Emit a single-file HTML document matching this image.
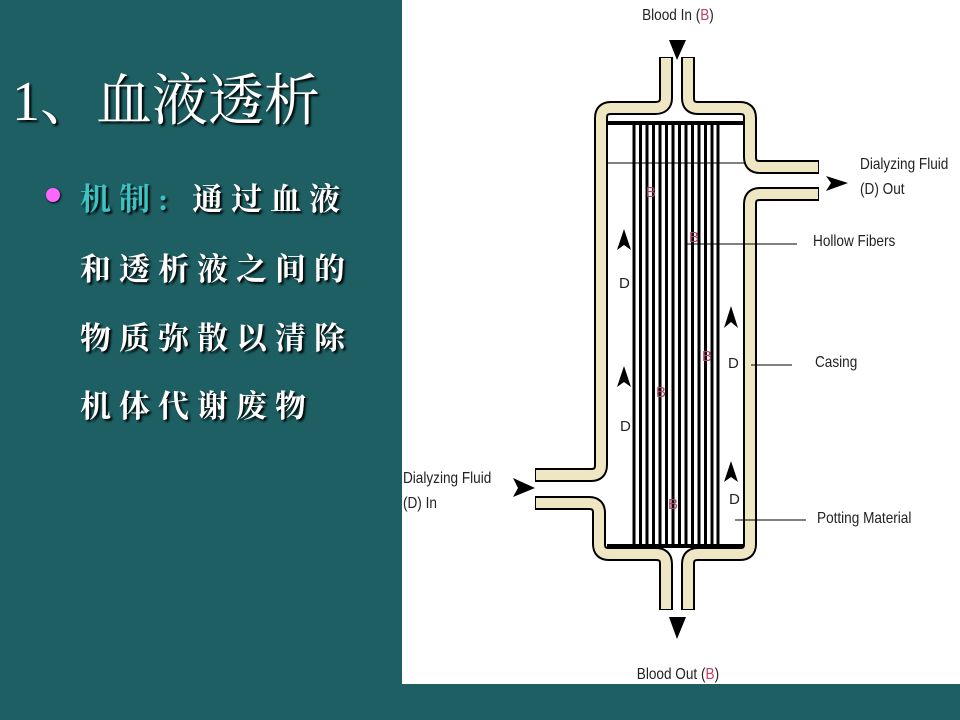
<!DOCTYPE html>
<html><head><meta charset="utf-8"><style>
html,body{margin:0;padding:0}
body{width:960px;height:720px;background:#1d5f63;position:relative;overflow:hidden}
.white{position:absolute;left:402px;top:0;width:558px;height:684px;background:#fff}
.t{position:absolute;color:#fff;font-family:"Liberation Serif","Noto Serif CJK SC",serif;text-shadow:2px 2px 2px #000;white-space:nowrap}
.title{left:12px;top:70px;font-size:56px;line-height:64px}
.l{left:80px;font-size:31px;letter-spacing:8px;line-height:40px;font-weight:bold}
.dot{position:absolute;left:46px;top:188px;width:14px;height:14px;border-radius:50%;background:#ff66ff;box-shadow:1px 1px 2px #000}
svg{position:absolute;left:0;top:0}
</style></head><body>
<div class="white"></div>
<div class="t title">1、血液透析</div>
<div class="dot"></div>
<div class="t l" style="top:180px"><span style="color:#3cc4c4">机制:</span>&nbsp;通过血液</div>
<div class="t l" style="top:250px">和透析液之间的</div>
<div class="t l" style="top:319px">物质弥散以清除</div>
<div class="t l" style="top:387px">机体代谢废物</div>
<svg width="960" height="720" viewBox="0 0 960 720">
<g fill="none" stroke-linejoin="round">
<g stroke="#000" stroke-width="14">
<path d="M666 57 V98 Q666 108 655 108 H611 Q601 108 601 118 V465 Q601 475 591 475 H535"/>
<path d="M535 503 H589 Q599 503 599 513 V544 Q599 554 609 554 H656 Q666 554 666 564 V610"/>
<path d="M688 57 V98 Q688 108 698 108 H740 Q750 108 750 118 V157 Q750 167 760 167 H819"/>
<path d="M819 194 H760 Q750 194 750 204 V544 Q750 554 740 554 H698 Q688 554 688 564 V610"/>
</g>
<g stroke="#efe6c4" stroke-width="10">
<path d="M666 58 V98 Q666 108 655 108 H611 Q601 108 601 118 V465 Q601 475 591 475 H536"/>
<path d="M536 503 H589 Q599 503 599 513 V544 Q599 554 609 554 H656 Q666 554 666 564 V609"/>
<path d="M688 58 V98 Q688 108 698 108 H740 Q750 108 750 118 V157 Q750 167 760 167 H818"/>
<path d="M818 194 H760 Q750 194 750 204 V544 Q750 554 740 554 H698 Q688 554 688 564 V609"/>
</g>
</g>
<g stroke="#000">
<line x1="607" y1="123" x2="745" y2="123" stroke-width="4"/>
<line x1="607" y1="546" x2="744" y2="546" stroke-width="4"/>
<g stroke-width="3">
<line x1="634" y1="123" x2="634" y2="546"/><line x1="640.5" y1="123" x2="640.5" y2="546"/>
<line x1="647" y1="123" x2="647" y2="546"/><line x1="653.5" y1="123" x2="653.5" y2="546"/>
<line x1="660" y1="123" x2="660" y2="546"/><line x1="666.5" y1="123" x2="666.5" y2="546"/>
<line x1="673" y1="123" x2="673" y2="546"/><line x1="679.5" y1="123" x2="679.5" y2="546"/>
<line x1="686" y1="123" x2="686" y2="546"/><line x1="692.5" y1="123" x2="692.5" y2="546"/>
<line x1="699" y1="123" x2="699" y2="546"/><line x1="705.5" y1="123" x2="705.5" y2="546"/>
<line x1="712" y1="123" x2="712" y2="546"/><line x1="718" y1="123" x2="718" y2="546"/>
</g>
<g stroke-width="1">
<line x1="606" y1="163" x2="745" y2="163"/>
<line x1="687" y1="244" x2="797" y2="244"/>
<line x1="751" y1="365" x2="792" y2="365"/>
<line x1="735" y1="520" x2="806" y2="520"/>
</g>
</g>
<g fill="#000">
<polygon points="669,40 686,40 677,60"/>
<polygon points="669,617 686,617 677,639"/>
<polygon points="513,478 535,488 513,497 518,488"/>
<polygon points="826,176 848,183 826,191 831,183"/>
<polygon points="624,229 617,250 624,245 631,250"/>
<polygon points="624,366 617,387 624,382 631,387"/>
<polygon points="731,306 724,328 731,322 738,328"/>
<polygon points="731,461 724,482 731,477 738,482"/>
</g>
<g font-family="Liberation Sans, sans-serif" font-size="15" fill="#b04060" text-anchor="middle">
<text x="651" y="197">B</text><text x="694" y="242">B</text><text x="707" y="361">B</text>
<text x="661" y="397">B</text><text x="673" y="509">B</text>
</g>
<g font-family="Liberation Sans, sans-serif" font-size="15" fill="#222">
<text x="619" y="288">D</text><text x="620" y="431">D</text>
<text x="728" y="368">D</text><text x="729" y="504">D</text>
</g>
<g font-family="Liberation Sans, sans-serif" font-size="16" fill="#222" transform="scale(0.85,1)">
<text x="797.6" y="20" text-anchor="middle">Blood In (<tspan fill="#c04060">B</tspan>)</text>
<text x="797.6" y="679" text-anchor="middle">Blood Out (<tspan fill="#c04060">B</tspan>)</text>
<text x="1011.8" y="169">Dialyzing Fluid</text>
<text x="1011.8" y="194">(D) Out</text>
<text x="956.5" y="246">Hollow Fibers</text>
<text x="958.8" y="367">Casing</text>
<text x="961.2" y="523">Potting Material</text>
<text x="474.1" y="483">Dialyzing Fluid</text>
<text x="474.1" y="508">(D) In</text>
</g>
</svg>
</body></html>
